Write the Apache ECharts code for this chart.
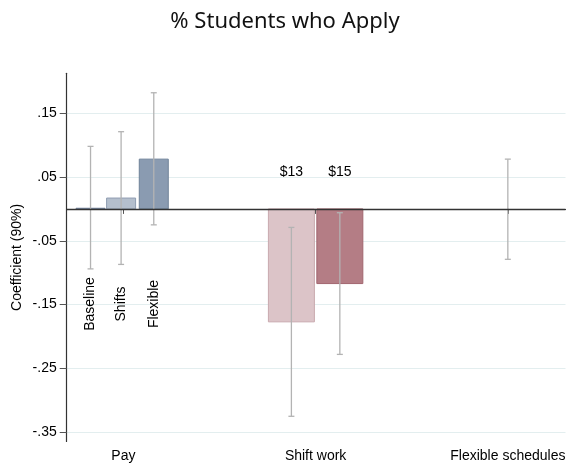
<!DOCTYPE html>
<html>
<head>
<meta charset="utf-8">
<script src="https://cdn.jsdelivr.net/npm/echarts@6/dist/echarts.min.js"></script>
<style>
  html, body { margin: 0; padding: 0; background: #fff; }
  #chart { width: 570px; height: 465px; }
</style>
</head>
<body>
<div id="chart"></div>
<script>
// x-axis groups
var groups = ['Pay', 'Shift work', 'Flexible schedules'];
// one entry per coefficient
var labels = ['Baseline', 'Shifts', 'Flexible', '$13', '$15', ''];
var groupIndex = [1, 1, 1, 2, 2, 3];
var coef = [0.001, 0.017, 0.078, -0.177, -0.117, 0];
var ciLow = [-0.094, -0.087, -0.025, -0.325, -0.228, -0.079];
var ciHigh = [0.098, 0.121, 0.182, -0.029, -0.006, 0.078];
var yTicks = [-0.35, -0.25, -0.15, -0.05, 0.05, 0.15];

// layout: where each bar sits inside its group, and how it looks
var offsets = [-0.171, -0.012, 0.158, -0.126, 0.126, 0];
var barPx = [29, 29, 29, 46, 46, 46];
var fills = ['#7d8ca3', '#b4bfcd', '#8a9bb1', '#dcc4c8', '#b47d85', 'rgba(0,0,0,0)'];
var strokes = ['#6e7f99', '#8e9cb1', '#6f8299', '#c9a9ae', '#a2666f', 'rgba(0,0,0,0)'];
var labelY = [-0.149, -0.149, -0.149, 0.058, 0.058, 0];
var labelRot = [Math.PI / 2, Math.PI / 2, Math.PI / 2, 0, 0, 0];

var rows = labels.map(function (l, i) {
  return [groupIndex[i] + offsets[i], coef[i], ciLow[i], ciHigh[i]];
});

function renderItem(params, api) {
  var i = params.dataIndex;
  var x = api.value(0);
  var base = api.coord([x, 0]);
  var top = api.coord([x, api.value(1)]);
  var lo = api.coord([x, api.value(2)]);
  var hi = api.coord([x, api.value(3)]);
  var w = barPx[i];
  var cap = 3;
  var kids = [];
  kids.push({
    type: 'rect',
    shape: {
      x: base[0] - w / 2,
      y: Math.min(base[1], top[1]),
      width: w,
      height: Math.max(Math.abs(top[1] - base[1]), 0.5)
    },
    style: { fill: fills[i], stroke: strokes[i], lineWidth: 1 }
  });
  var ebStyle = { stroke: '#b3b3b3', lineWidth: 1.3 };
  kids.push({ type: 'line', shape: { x1: lo[0], y1: lo[1], x2: hi[0], y2: hi[1] }, style: ebStyle });
  kids.push({ type: 'line', shape: { x1: lo[0] - cap, y1: lo[1], x2: lo[0] + cap, y2: lo[1] }, style: ebStyle });
  kids.push({ type: 'line', shape: { x1: hi[0] - cap, y1: hi[1], x2: hi[0] + cap, y2: hi[1] }, style: ebStyle });
  if (labels[i]) {
    var lp = api.coord([x, labelY[i]]);
    kids.push({
      type: 'text',
      x: lp[0],
      y: lp[1],
      rotation: labelRot[i],
      style: {
        text: labels[i],
        fill: '#000',
        font: '14px "Liberation Sans", Arial, sans-serif',
        align: 'center',
        verticalAlign: 'middle'
      }
    });
  }
  return { type: 'group', children: kids };
}

var chart = echarts.init(document.getElementById('chart'));
chart.setOption({
  backgroundColor: '#fff',
  animation: false,
  title: {
    text: '% Students who Apply',
    left: 'center',
    top: 6,
    textStyle: {
      fontFamily: 'Noto Sans',
      fontWeight: 'normal',
      fontSize: 22,
      color: '#111'
    }
  },
  grid: { left: 66.7, right: 4.5, top: 73.3, bottom: 23.5 },
  xAxis: {
    type: 'value',
    min: 0.705,
    max: 3.3,
    axisLine: { show: true, lineStyle: { color: '#333', width: 1.2 } },
    axisTick: { show: true, customValues: [1, 2, 3], length: 5, lineStyle: { color: '#555' } },
    axisLabel: {
      customValues: [1, 2, 3],
      margin: 8,
      color: '#000',
      fontSize: 14,
      fontFamily: 'Liberation Sans',
      formatter: function (v) { return groups[Math.round(v) - 1]; }
    },
    splitLine: { show: false }
  },
  yAxis: {
    type: 'value',
    min: -0.3645,
    max: 0.2125,
    name: 'Coefficient (90%)',
    nameLocation: 'middle',
    nameGap: 43,
    nameMoveOverlap: false,
    nameTextStyle: { color: '#000', fontSize: 14, fontFamily: 'Liberation Sans' },
    axisLine: { show: true, lineStyle: { color: '#333', width: 1.2 } },
    axisTick: { show: true, customValues: yTicks, length: 7, lineStyle: { color: '#555' } },
    axisLabel: {
      customValues: yTicks,
      margin: 10,
      color: '#000',
      fontSize: 14,
      fontFamily: 'Liberation Sans',
      formatter: function (v) { return v.toFixed(2).replace('0.', '.'); }
    },
    splitLine: { show: true, lineStyle: { color: '#e3eeef', width: 1 } }
  },
  series: [{
    type: 'custom',
    renderItem: renderItem,
    data: rows,
    clip: false,
    markLine: {
      silent: true,
      symbol: 'none',
      label: { show: false },
      lineStyle: { color: '#333', width: 1.3, type: 'solid' },
      data: [{ yAxis: 0 }]
    }
  }]
});
</script>
</body>
</html>
